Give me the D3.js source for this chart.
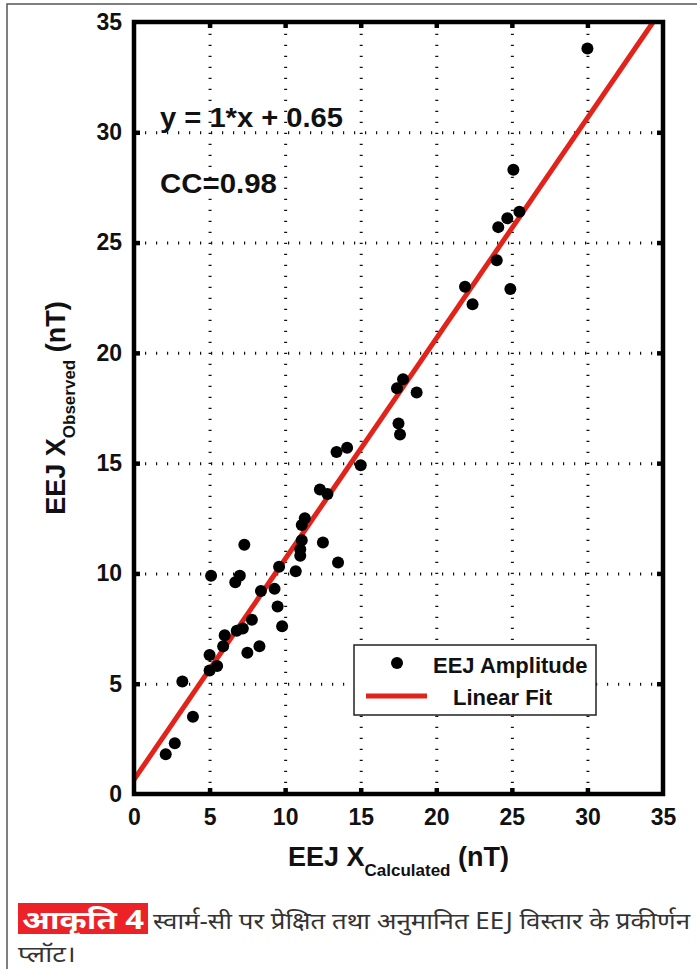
<!DOCTYPE html>
<html>
<head>
<meta charset="utf-8">
<script src="https://cdn.jsdelivr.net/npm/d3@7"></script>
<style>
  html, body { margin: 0; padding: 0; background: #fff; }
  svg { display: block; }
  .chart text { font-family: "Liberation Sans", Arial, sans-serif; font-weight: bold; fill: #111; }
</style>
</head>
<body>
<svg id="chart" width="697" height="969"></svg>
<script>
// 観測値と計算値 (nT)
const calculated = [2.1, 2.7, 3.9, 3.2, 5.0, 5.5, 5.0, 5.9, 7.5, 8.3,
                    6.0, 6.8, 7.2, 7.8, 9.8, 9.5, 8.4, 9.3, 5.1, 6.7,
                    7.0, 7.3, 9.6, 10.7, 11.0, 11.0, 11.1, 12.5, 11.1, 11.3,
                    12.3, 12.8, 13.5, 13.4, 14.1, 15.0, 17.4, 17.8, 18.7, 17.5,
                    17.6, 21.9, 22.4, 24.0, 24.9, 24.1, 24.7, 25.5, 25.1, 30.0];
const observed   = [1.8, 2.3, 3.5, 5.1, 5.6, 5.8, 6.3, 6.7, 6.4, 6.7,
                    7.2, 7.4, 7.5, 7.9, 7.6, 8.5, 9.2, 9.3, 9.9, 9.6,
                    9.9, 11.3, 10.3, 10.1, 10.8, 11.1, 11.5, 11.4, 12.2, 12.5,
                    13.8, 13.6, 10.5, 15.5, 15.7, 14.9, 18.4, 18.8, 18.2, 16.8,
                    16.3, 23.0, 22.2, 24.2, 22.9, 25.7, 26.1, 26.4, 28.3, 33.8];
const tickValues = [0, 5, 10, 15, 20, 25, 30, 35];
const gridValues = [5, 10, 15, 20, 25, 30];
const fitSlope = 1;
const fitIntercept = 0.65;
const ccValue = "0.98";

const svg = d3.select('#chart');
const plotLeft = 134, plotRight = 663, plotTop = 22, plotBottom = 794;

const x = d3.scaleLinear().domain([0, 35]).range([plotLeft, plotRight]);
const y = d3.scaleLinear().domain([0, 35]).range([plotBottom, plotTop]);

// 外枠
svg.append('path')
    .attr('d', 'M697,4H7V969')
    .attr('fill', 'none')
    .attr('stroke', '#555')
    .attr('stroke-width', 1.5);

const chart = svg.append('g').attr('class', 'chart');

// グリッド (点線)
const gridX = chart.append('g')
    .attr('transform', `translate(0,${plotBottom})`)
    .call(d3.axisBottom(x).tickValues(gridValues).tickSize(-(plotBottom - plotTop)).tickFormat(''));
const gridY = chart.append('g')
    .attr('transform', `translate(${plotLeft},0)`)
    .call(d3.axisLeft(y).tickValues(gridValues).tickSize(-(plotRight - plotLeft)).tickFormat(''));
[gridX, gridY].forEach(g => {
    g.select('.domain').remove();
    g.selectAll('line')
        .attr('stroke', '#111')
        .attr('stroke-width', 3)
        .attr('stroke-dasharray', '1.2,9.8');
});

// 内側の目盛り
const tickLen = 6;
const inner = [
    chart.append('g').attr('transform', `translate(0,${plotBottom})`).call(d3.axisBottom(x).tickValues(gridValues).tickSize(-tickLen).tickFormat('')),
    chart.append('g').attr('transform', `translate(0,${plotTop})`).call(d3.axisTop(x).tickValues(gridValues).tickSize(-tickLen).tickFormat('')),
    chart.append('g').attr('transform', `translate(${plotLeft},0)`).call(d3.axisLeft(y).tickValues(gridValues).tickSize(-tickLen).tickFormat('')),
    chart.append('g').attr('transform', `translate(${plotRight},0)`).call(d3.axisRight(y).tickValues(gridValues).tickSize(-tickLen).tickFormat(''))
];
inner.forEach(g => {
    g.select('.domain').remove();
    g.selectAll('line').attr('stroke', '#000').attr('stroke-width', 4.5);
});

// 目盛りラベル
const xAxis = chart.append('g')
    .attr('transform', `translate(0,${plotBottom})`)
    .call(d3.axisBottom(x).tickValues(tickValues).tickSize(0).tickPadding(15));
const yAxis = chart.append('g')
    .attr('transform', `translate(${plotLeft},0)`)
    .call(d3.axisLeft(y).tickValues(tickValues).tickSize(0).tickPadding(12));
[xAxis, yAxis].forEach(g => {
    g.select('.domain').remove();
    g.selectAll('text')
        .style('font-family', '"Liberation Sans", Arial, sans-serif')
        .style('font-weight', 'bold')
        .style('font-size', '23px')
        .attr('fill', '#111');
});

// 回帰直線
const fitData = [0, (35 - fitIntercept) / fitSlope].map(v => [v, fitSlope * v + fitIntercept]);
chart.append('path')
    .datum(fitData)
    .attr('d', d3.line().x(d => x(d[0])).y(d => y(d[1])))
    .attr('fill', 'none')
    .attr('stroke', '#e2231a')
    .attr('stroke-width', 5);

// 散布点
chart.append('g')
    .selectAll('circle')
    .data(calculated.map((c, i) => [c, observed[i]]))
    .enter()
    .append('circle')
    .attr('cx', d => x(d[0]))
    .attr('cy', d => y(d[1]))
    .attr('r', 6)
    .attr('fill', '#000');

// 軸の枠
chart.append('rect')
    .attr('x', plotLeft).attr('y', plotTop)
    .attr('width', plotRight - plotLeft).attr('height', plotBottom - plotTop)
    .attr('fill', 'none')
    .attr('stroke', '#000')
    .attr('stroke-width', 4.5);

// 回帰式とCC
chart.append('text')
    .attr('x', 160).attr('y', 127)
    .attr('textLength', 183)
    .attr('lengthAdjust', 'spacingAndGlyphs')
    .style('font-size', '27px')
    .text(`y = ${fitSlope}*x + ${fitIntercept}`);
chart.append('text')
    .attr('x', 160).attr('y', 193)
    .attr('textLength', 117)
    .attr('lengthAdjust', 'spacingAndGlyphs')
    .style('font-size', '27px')
    .text(`CC=${ccValue}`);

// 凡例
const legend = chart.append('g');
legend.append('rect')
    .attr('x', 354).attr('y', 645)
    .attr('width', 242).attr('height', 70)
    .attr('fill', '#fff')
    .attr('stroke', '#222')
    .attr('stroke-width', 1.5);
legend.append('circle')
    .attr('cx', 397).attr('cy', 663).attr('r', 6).attr('fill', '#000');
legend.append('text')
    .attr('x', 433).attr('y', 673)
    .style('font-size', '22px')
    .text('EEJ Amplitude');
legend.append('line')
    .attr('x1', 366).attr('x2', 427).attr('y1', 696).attr('y2', 696)
    .attr('stroke', '#e2231a').attr('stroke-width', 5);
legend.append('text')
    .attr('x', 453).attr('y', 705)
    .style('font-size', '22px')
    .text('Linear Fit');

// 軸ラベル
const xLabel = chart.append('text')
    .attr('x', (plotLeft + plotRight) / 2).attr('y', 866)
    .attr('text-anchor', 'middle')
    .style('font-size', '27px');
xLabel.append('tspan').text('EEJ X');
xLabel.append('tspan').attr('dy', 10).style('font-size', '17px').text('Calculated');
xLabel.append('tspan').attr('dy', -10).text(' (nT)');

const yLabel = chart.append('text')
    .attr('transform', `translate(65,${(plotTop + plotBottom) / 2}) rotate(-90)`)
    .attr('text-anchor', 'middle')
    .style('font-size', '27px');
yLabel.append('tspan').text('EEJ X');
yLabel.append('tspan').attr('dy', 10).style('font-size', '17px').text('Observed');
yLabel.append('tspan').attr('dy', -10).text(' (nT)');

// キャプション
const capFont = '"Noto Sans", "DejaVu Sans", sans-serif';
svg.append('rect')
    .attr('x', 18).attr('y', 903)
    .attr('width', 130).attr('height', 31)
    .attr('fill', '#ec2227');
svg.append('text')
    .attr('x', 22).attr('y', 929)
    .attr('textLength', 122)
    .attr('lengthAdjust', 'spacingAndGlyphs')
    .style('font-family', capFont)
    .style('font-weight', 'bold')
    .style('font-size', '26px')
    .attr('fill', '#fff')
    .text('आकृति 4');
svg.append('text')
    .attr('x', 153).attr('y', 929)
    .attr('textLength', 537)
    .attr('lengthAdjust', 'spacingAndGlyphs')
    .style('font-family', capFont)
    .style('font-size', '23px')
    .attr('fill', '#333')
    .text('स्वार्म-सी पर प्रेक्षित तथा अनुमानित EEJ विस्तार के प्रकीर्णन');
svg.append('text')
    .attr('x', 18).attr('y', 962)
    .attr('textLength', 58)
    .attr('lengthAdjust', 'spacingAndGlyphs')
    .style('font-family', capFont)
    .style('font-size', '23px')
    .attr('fill', '#333')
    .text('प्लॉट।');
</script>
</body>
</html>
